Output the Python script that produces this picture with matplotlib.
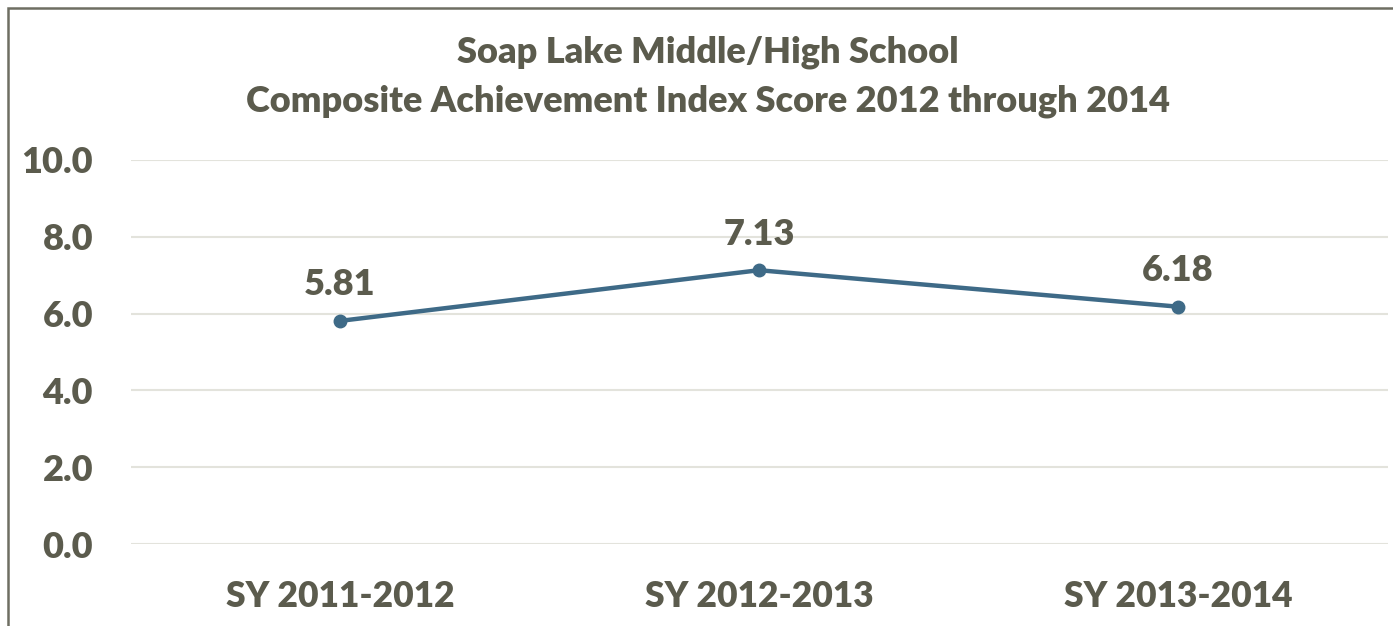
import matplotlib
matplotlib.use("Agg")
import matplotlib.pyplot as plt
from matplotlib.patches import Rectangle

categories = ["SY 2011-2012", "SY 2012-2013", "SY 2013-2014"]
scores = [5.81, 7.13, 6.18]
yticks = [0.0, 2.0, 4.0, 6.0, 8.0, 10.0]
title_lines = ["Soap Lake Middle/High School",
               "Composite Achievement Index Score 2012 through 2014"]

TEXT = "#5b5b4d"
LINE = "#3e6a87"
GRID = "#e3e3dc"
WEIGHT = 'heavy'
plt.rcParams['font.family'] = ['Lato', 'DejaVu Sans']

W, H = 1393, 626
fig = plt.figure(figsize=(W / 100, H / 100), dpi=100)
ax = fig.add_axes([130.5 / W, (H - 544) / H, (1387.5 - 130.5) / W, (544 - 160) / H])

x = list(range(len(categories)))
ax.plot(x, scores, color=LINE, lw=3.2, marker='o', ms=9, solid_capstyle='round', zorder=3)
for xi, v in zip(x, scores):
    ax.annotate(f"{v:.2f}", (xi, v), xytext=(0, 14), textcoords='offset points',
                ha='center', va='bottom', fontsize=26, fontweight=WEIGHT, color=TEXT)

ax.set_xlim(-0.5, len(categories) - 0.5)
ax.set_ylim(0, 10)
ax.set_yticks(yticks)
ax.set_yticklabels([f"{t:.1f}" for t in yticks])
ax.set_xticks(x)
ax.set_xticklabels(categories)
ax.tick_params(axis='both', length=0, labelcolor=TEXT)
ax.tick_params(axis='y', pad=27, labelsize=26)
ax.tick_params(axis='x', pad=26, labelsize=25.5)
for lab in ax.get_xticklabels() + ax.get_yticklabels():
    lab.set_fontweight(WEIGHT)
ax.grid(axis='y', color=GRID, lw=1.5)
ax.set_axisbelow(True)
for s in ax.spines.values():
    s.set_visible(False)

fig.text(708 / W, 1 - 52 / H, title_lines[0], ha='center', va='center',
         fontsize=26, fontweight=WEIGHT, color=TEXT)
fig.text(708 / W, 1 - 101 / H, title_lines[1], ha='center', va='center',
         fontsize=26, fontweight=WEIGHT, color=TEXT)

fig.patches.append(Rectangle((8 / W, -0.1), 1.2, 1 - 8 / H + 0.1, transform=fig.transFigure,
                             fill=False, edgecolor="#6e6e62", lw=1.8))

fig.savefig("out.png", dpi=100)
